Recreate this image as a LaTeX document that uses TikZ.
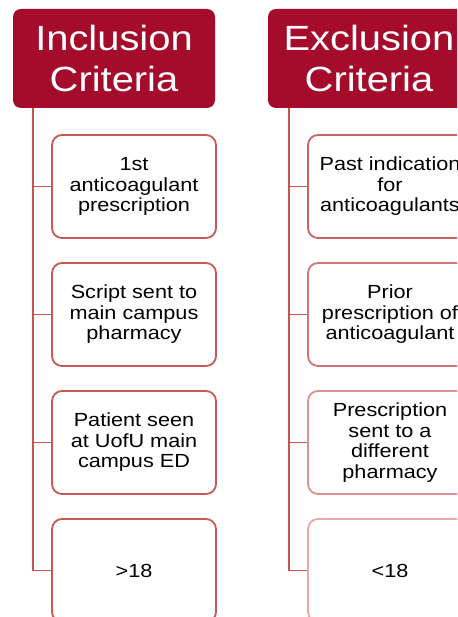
\documentclass[tikz,border=0pt]{standalone}
\usepackage{fontspec}
\setmainfont{Liberation Sans}[FakeStretch=1.14]
\usetikzlibrary{positioning}
\definecolor{headred}{RGB}{165,12,44}
\definecolor{linered}{RGB}{196,84,84}
\definecolor{boxred}{RGB}{198,88,88}
\definecolor{excA}{RGB}{200,100,100}
\definecolor{excB}{RGB}{208,118,118}
\definecolor{excC}{RGB}{222,145,145}
\definecolor{excD}{RGB}{232,168,168}

\begin{document}
\begin{tikzpicture}[x=1pt, y=-1pt,
header/.style = {shape=rectangle, rounded corners=8pt, fill=headred, text=white,
minimum width=202pt, minimum height=99pt, align=center,
font=\fontsize{35}{40.5}\selectfont},
crit/.style = {shape=rectangle, rounded corners=10pt, draw=#1, line width=1.8pt,
fill=white, minimum width=164pt, minimum height=103pt, align=center,
font=\fontsize{19}{20.5}\selectfont},
crit/.default = boxred,
link/.style = {draw=linered, line width=1.8pt}]
\clip (0,0) rectangle (457,617);
\fill[white] (0,0) rectangle (457,617);

% inclusion side
\node (inc) [header] at (114,58.5) {Inclusion\\Criteria};
\node (inc1) [crit] at (134,186.5) {1st\\anticoagulant\\prescription};
\node (inc2) [crit, below=23.2pt of inc1] {Script sent to\\main campus\\pharmacy};
\node (inc3) [crit, below=23.2pt of inc2] {Patient seen\\at UofU main\\campus ED};
\node (inc4) [crit, below=23.2pt of inc3] {>18};
\coordinate (incTrunk) at (33,108);
\draw [link] (incTrunk) |- (inc4.west);
\foreach \b in {inc1,inc2,inc3}
\draw [link] (\b.west) -- (\b.west -| incTrunk);

% exclusion side
\node (exc) [header] at (369,58.5) {Exclusion\\Criteria};
\node (exc1) [crit=excA] at (390,186.5) {Past indication\\for\\anticoagulants};
\node (exc2) [crit=excB, below=23.2pt of exc1] {Prior\\prescription of\\anticoagulant};
\node (exc3) [crit=excC, below=23.2pt of exc2] {Prescription\\sent to a\\different\\pharmacy};
\node (exc4) [crit=excD, below=23.2pt of exc3] {<18};
\coordinate (excTrunk) at (289,108);
\draw [link] (excTrunk) |- (exc4.west);
\foreach \b in {exc1,exc2,exc3}
\draw [link] (\b.west) -- (\b.west -| excTrunk);
\end{tikzpicture}
\end{document}
